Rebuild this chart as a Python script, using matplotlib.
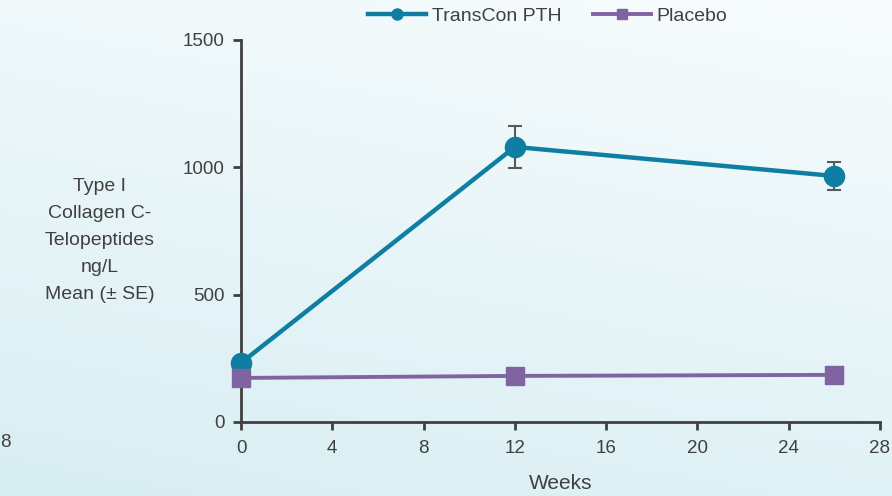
import numpy as np
import matplotlib.pyplot as plt
from matplotlib.colors import LinearSegmentedColormap

plt.rcParams['font.family'] = ['Liberation Sans', 'DejaVu Sans']

# data
weeks = [0, 12, 26]
transcon = [232, 1080, 966]
transcon_se = [0, 82, 55]
placebo = [173, 181, 185]

xticks = [0, 4, 8, 12, 16, 20, 24, 28]
yticks = [0, 500, 1000, 1500]

blue = '#0f7ea3'
purple = '#8064a2'
grey = '#404040'

fig = plt.figure(figsize=(8.92, 4.96), dpi=100)

# gradient background
bg = fig.add_axes([0, 0, 1, 1], zorder=-10)
gx, gy = np.meshgrid(np.linspace(0, 1, 200), np.linspace(0, 1, 200))
grad = 0.75 * gy + 0.25 * (1 - gx)
cmap = LinearSegmentedColormap.from_list('bg', ['#f8fcfd', '#d8eef3'])
bg.imshow(grad, cmap=cmap, aspect='auto', extent=[0, 1, 0, 1], origin='upper')
bg.axis('off')

ax = fig.add_axes([0.2702, 0.1492, 0.7163, 0.7702])
ax.patch.set_alpha(0)

ax.errorbar(weeks, transcon, yerr=transcon_se, fmt='none', ecolor='#595959',
            elinewidth=1.5, capsize=5, capthick=1.5, zorder=3, clip_on=False)
ax.plot(weeks, transcon, color=blue, lw=3.2, marker='o', ms=14.5,
        label='TransCon PTH', zorder=4, clip_on=False)
ax.plot(weeks, placebo, color=purple, lw=2.8, marker='s', ms=13.5,
        label='Placebo', zorder=5, clip_on=False)

ax.set_xlim(0, 28)
ax.set_ylim(0, 1500)
ax.set_xticks(xticks)
ax.set_yticks(yticks)
ax.spines['top'].set_visible(False)
ax.spines['right'].set_visible(False)
for s in ['left', 'bottom']:
    ax.spines[s].set_color(grey)
    ax.spines[s].set_linewidth(2)
ax.tick_params(colors=grey, width=2, length=6, labelsize=13.5, pad=6)
ax.tick_params(axis='x', pad=7)

ax.set_xlabel('Weeks', fontsize=15, color=grey, labelpad=12)
fig.text(0.112, 0.515, 'Type I\nCollagen C-\nTelopeptides\nng/L\nMean (± SE)',
         ha='center', va='center', fontsize=14, color=grey, linespacing=1.78)
fig.text(0.0, 0.107, '8', ha='left', va='center', fontsize=13.5, color=grey)

fig.legend(loc='upper center', bbox_to_anchor=(0.614, 1.02), ncol=2,
           frameon=False, fontsize=14, handlelength=3.0, markerscale=0.55,
           columnspacing=1.6, handletextpad=0.3, labelcolor='#404040')

fig.savefig('out.png', dpi=100)
